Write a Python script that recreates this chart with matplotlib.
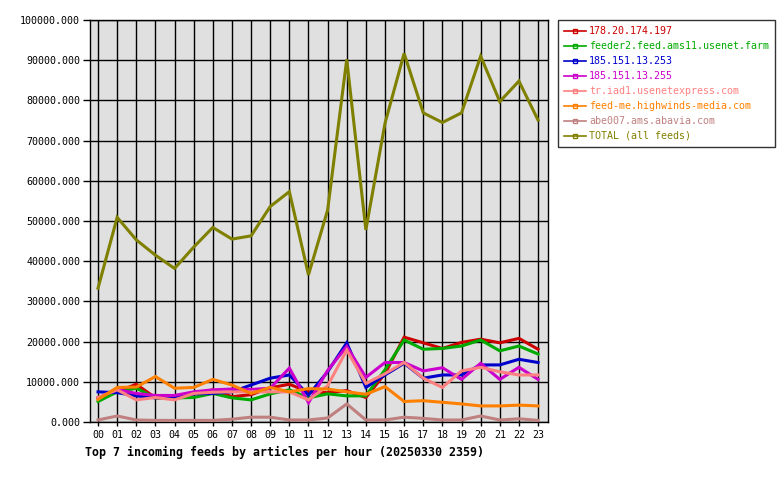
import numpy as np
import matplotlib
matplotlib.use("Agg")
import matplotlib.pyplot as plt
from matplotlib.lines import Line2D

hours = ["%02d" % h for h in range(24)]

feeds = ["178.20.174.197", "feeder2.feed.ams11.usenet.farm", "185.151.13.253",
         "185.151.13.255", "tr.iad1.usenetexpress.com", "feed-me.highwinds-media.com",
         "abe007.ams.abavia.com", "TOTAL (all feeds)"]
colors = ["#cc0000", "#00aa00", "#0000cc", "#cc00cc", "#ff8080", "#ff8000", "#c08080", "#808000"]

red = [6000, 7500, 9400, 6000, 6000, 7000, 8000, 6300, 6800, 8500, 9400, 7500,
       7300, 7800, 6100, 12000, 21100, 19700, 18300, 19800, 20600, 19700, 20800, 18100]
green = [5100, 7500, 8400, 6000, 6000, 6100, 7100, 6000, 5500, 7000, 8000, 6000,
         7000, 6500, 6500, 13000, 20400, 18100, 18300, 18900, 20400, 17700, 18900, 16900]
blue = [7500, 7300, 6500, 6000, 6300, 7000, 7100, 7500, 9200, 10900, 11700, 6700,
        12500, 19700, 8600, 11700, 14600, 10900, 11700, 11700, 14200, 14200, 15600, 14800]
magenta = [6000, 8100, 7100, 6600, 6600, 7500, 8000, 8200, 8100, 8400, 13400, 4800,
           12800, 18800, 11100, 14800, 14800, 12700, 13500, 10600, 14600, 10600, 13600, 10600]
salmon = [6100, 8000, 5500, 6100, 5500, 7100, 7400, 7500, 7500, 7500, 7500, 5500,
          9000, 17900, 9600, 12000, 14800, 10900, 8600, 12700, 13600, 12500, 11700, 11700]
orange = [5600, 8600, 8700, 11300, 8400, 8600, 10600, 9200, 7100, 8600, 7500, 8300,
          8200, 7500, 6900, 8800, 5100, 5300, 4900, 4500, 4000, 4000, 4200, 4000]
abavia = [500, 1500, 500, 400, 400, 400, 400, 700, 1200, 1200, 500, 500,
          1000, 4500, 500, 500, 1200, 900, 500, 500, 1500, 500, 800, 400]
total = [33300, 50900, 45300, 41500, 38200, 43500, 48400, 45500, 46300, 53600, 57300, 36600,
         52700, 90200, 47800, 74300, 91700, 76900, 74500, 76900, 91000, 79700, 84800, 75100]

series = [red, green, blue, magenta, salmon, orange, abavia, total]

mono = "DejaVu Sans Mono"
fig = plt.figure(figsize=(7.8, 4.8), dpi=100)
ax = fig.add_axes([90/780, 58/480, 458/780, 402/480])
ax.set_facecolor("#e0e0e0")

x = np.arange(len(hours))
for vals, c in zip(series, colors):
    ax.plot(x, vals, color=c, lw=2.2, solid_joinstyle="miter", zorder=3)

ax.set_xlim(-0.42, 23.52)
ax.set_ylim(0, 100000)
ax.set_yticks(np.arange(0, 100001, 10000))
ax.set_yticklabels(["%.3f" % v for v in np.arange(0, 100001, 10000)], fontfamily=mono, fontsize=7.2)
ax.set_xticks(x)
ax.set_xticklabels(hours, fontfamily=mono, fontsize=7.2)
ax.grid(True, color="black", lw=1, zorder=1)
ax.set_axisbelow(True)
ax.tick_params(axis="y", length=5, width=1, pad=2)
ax.tick_params(axis="x", length=3, width=1, pad=3)
for s in ax.spines.values():
    s.set_linewidth(1)

fig.text(85/780, 1 - 452/480, "Top 7 incoming feeds by articles per hour (20250330 2359)",
         fontfamily=mono, fontsize=8.4, fontweight="bold", va="center", ha="left")

handles = [Line2D([0], [0], color=c, lw=1.2, marker="s", markersize=3,
                  markerfacecolor="none", markeredgecolor=c) for c in colors]
leg = fig.legend(handles, feeds, loc="upper left", bbox_to_anchor=(558/780, 1 - 20/480),
                 prop={"family": mono, "size": 7.2}, frameon=True, fancybox=False,
                 edgecolor="black", handlelength=2.2, handletextpad=0.3,
                 labelspacing=0.5, borderpad=0.6, borderaxespad=0)
leg.get_frame().set_linewidth(1)
for t, c in zip(leg.get_texts(), colors):
    t.set_color(c)

fig.savefig("out.png", dpi=100)
